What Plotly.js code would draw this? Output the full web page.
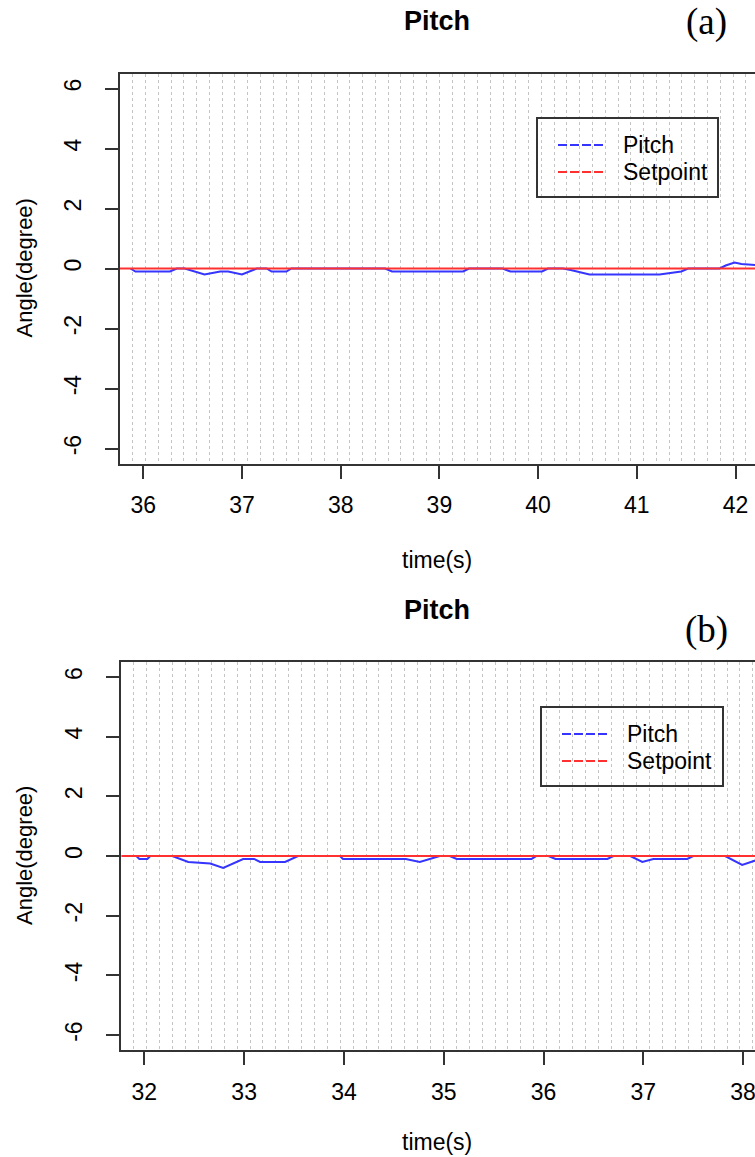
<!DOCTYPE html>
<html>
<head>
<meta charset="utf-8">
<script src="https://cdn.plot.ly/plotly-3.0.1.min.js"></script>
<style>
html,body{margin:0;padding:0;background:#fff;overflow:hidden;}
#chart{width:760px;height:1157px;}
</style>
</head>
<body>
<div id="chart"></div>
<script>
// ---------- data ----------
const chartTitle = "Pitch";
const panelLabels = ["(a)", "(b)"];
const seriesNames = ["Pitch", "Setpoint"];
const xTitle = "time(s)";
const yTitle = "Angle(degree)";

// panel (a)
const time_a = [35.87, 35.92, 36.27, 36.34, 36.42, 36.47, 36.62, 36.78, 36.86, 37.0, 37.15, 37.25, 37.3, 37.45, 37.5,
                38.45, 38.52, 39.24, 39.3, 39.64, 39.72, 40.04, 40.1, 40.25, 40.33, 40.52, 41.23, 41.45, 41.52,
                41.84, 41.9, 41.99, 42.06, 42.25];
const pitch_a = [0, -0.1, -0.1, 0, 0, -0.05, -0.2, -0.1, -0.1, -0.2, 0, 0, -0.1, -0.1, 0,
                 0, -0.1, -0.1, 0, 0, -0.1, -0.1, 0, 0, -0.05, -0.2, -0.2, -0.1, 0,
                 0, 0.1, 0.2, 0.15, 0.1];
const setTime_a = [35.76, 42.25];
const setpoint_a = [0, 0];
const xticks_a = [36, 37, 38, 39, 40, 41, 42];

// panel (b)
const time_b = [31.86, 31.92, 31.95, 32.03, 32.06, 32.28, 32.44, 32.66, 32.79, 32.99, 33.1, 33.16, 33.41, 33.54,
                33.96, 33.99, 34.62, 34.76, 34.96, 35.06, 35.13, 35.88, 35.93, 36.05, 36.12, 36.64, 36.7,
                36.87, 36.99, 37.1, 37.44, 37.5, 37.82, 37.99, 38.17];
const pitch_b = [0, 0, -0.1, -0.1, 0, 0, -0.2, -0.25, -0.4, -0.1, -0.1, -0.2, -0.2, 0,
                 0, -0.1, -0.1, -0.2, 0, 0, -0.1, -0.1, 0, 0, -0.1, -0.1, 0,
                 0, -0.2, -0.1, -0.1, 0, 0, -0.3, -0.1];
const setTime_b = [31.77, 38.17];
const setpoint_b = [0, 0];
const xticks_b = [32, 33, 34, 35, 36, 37, 38];

const yticks = [-6, -4, -2, 0, 2, 4, 6];

// ---------- layout helpers ----------
const W = 760, H = 1157;
const PX = p => p / W;
const PY = p => 1 - p / H;
const FONT = "Liberation Sans, Arial, sans-serif";
const DARK = "#333333";
const BLUE = "#3535ff";
const RED = "#ff3030";

function xaxisDef(range, ticks, leftPx, anchor) {
  return {
    domain: [PX(leftPx), 1], range: range, anchor: anchor,
    tickmode: "array", tickvals: ticks, ticktext: ticks.map(String),
    ticks: "outside", ticklen: 13, tickwidth: 2, tickcolor: DARK,
    showline: true, linecolor: DARK, linewidth: 2, mirror: true,
    showgrid: false, zeroline: false,
    tickfont: {family: FONT, size: 23, color: "#000"},
    ticklabelstandoff: 7
  };
}
function gridAxisDef(range, leftPx, anchor, overlay, tick0g, dtickg) {
  return {
    domain: [PX(leftPx), 1], range: range, anchor: anchor, overlaying: overlay,
    tickmode: "linear", tick0: tick0g, dtick: dtickg,
    showticklabels: false, ticks: "", showline: false, zeroline: false,
    showgrid: true, gridcolor: "#c4c4c4", griddash: "dot", gridwidth: 1
  };
}
function yaxisDef(topPx, botPx, anchor) {
  return {
    domain: [PY(botPx), PY(topPx)], range: [-6.5, 6.5], anchor: anchor,
    tickmode: "array", tickvals: yticks, ticktext: yticks.map(String), tickangle: -90,
    ticks: "outside", ticklen: 13, tickwidth: 2, tickcolor: DARK,
    showline: true, linecolor: DARK, linewidth: 2, mirror: true,
    showgrid: false, zeroline: false,
    tickfont: {family: FONT, size: 23, color: "#000"},
    ticklabelstandoff: 15
  };
}

const traces = [
  {x: time_a, y: pitch_a, xaxis: "x", yaxis: "y", mode: "lines", name: seriesNames[0],
   line: {color: BLUE, width: 2}},
  {x: setTime_a, y: setpoint_a, xaxis: "x3", yaxis: "y", mode: "lines", name: seriesNames[1],
   line: {color: RED, width: 2}},
  {x: time_b, y: pitch_b, xaxis: "x2", yaxis: "y2", mode: "lines", name: seriesNames[0],
   line: {color: BLUE, width: 2}},
  {x: setTime_b, y: setpoint_b, xaxis: "x4", yaxis: "y2", mode: "lines", name: seriesNames[1],
   line: {color: RED, width: 2}}
];

const annotations = [];
const shapes = [];
function panelDecor(boxTop, boxBot, titleY, xTitleY, legend) {
  annotations.push({text: "<b>" + chartTitle + "</b>", x: PX(437), y: PY(titleY), xref: "paper", yref: "paper",
    showarrow: false, xanchor: "center", yanchor: "middle", font: {family: FONT, size: 27, color: "#000"}});
  annotations.push({text: yTitle, x: PX(24), y: PY((boxTop + boxBot) / 2), xref: "paper", yref: "paper",
    showarrow: false, textangle: -90, xanchor: "center", yanchor: "middle", font: {family: FONT, size: 22, color: "#000"}});
  annotations.push({text: xTitle, x: PX(437), y: PY(xTitleY), xref: "paper", yref: "paper",
    showarrow: false, xanchor: "center", yanchor: "middle", font: {family: FONT, size: 23, color: "#000"}});
  // legend box
  shapes.push({type: "rect", xref: "paper", yref: "paper", x0: PX(legend.l), x1: PX(legend.r),
    y0: PY(legend.t), y1: PY(legend.b), line: {color: DARK, width: 2}, fillcolor: "rgba(0,0,0,0)"});
  const colors = [BLUE, RED];
  seriesNames.forEach((nm, i) => {
    const yy = legend.t + 27 + i * 27;
    shapes.push({type: "line", xref: "paper", yref: "paper", x0: PX(legend.l + 21), x1: PX(legend.l + 66),
      y0: PY(yy), y1: PY(yy), line: {color: colors[i], width: 2, dash: "9px,3px"}});
    annotations.push({text: nm, x: PX(legend.l + 84), y: PY(yy), xref: "paper", yref: "paper",
      showarrow: false, xanchor: "left", yanchor: "middle", font: {family: FONT, size: 23, color: "#000"}});
  });
}
panelDecor(73.5, 463.5, 21, 560, {l: 537, r: 718, t: 118, b: 197});
panelDecor(662, 1050, 610, 1142, {l: 541, r: 723, t: 707, b: 786});
annotations.push({text: panelLabels[0], x: PX(706), y: PY(22), xref: "paper", yref: "paper", showarrow: false,
  xanchor: "center", yanchor: "middle", font: {family: "Liberation Serif, Times New Roman, serif", size: 37, color: "#000"}});
annotations.push({text: panelLabels[1], x: PX(706), y: PY(630), xref: "paper", yref: "paper", showarrow: false,
  xanchor: "center", yanchor: "middle", font: {family: "Liberation Serif, Times New Roman, serif", size: 37, color: "#000"}});

const rangeA = [35.764, 42.248];
const rangeB = [31.766, 38.169];
const layout = {
  width: W, height: H,
  margin: {l: 0, r: 0, t: 0, b: 0, pad: 0},
  paper_bgcolor: "#fff", plot_bgcolor: "#fff",
  showlegend: false,
  xaxis: xaxisDef(rangeA, xticks_a, 120, "y"),
  yaxis: yaxisDef(73.5, 463.5, "x"),
  xaxis2: xaxisDef(rangeB, xticks_b, 121, "y2"),
  yaxis2: yaxisDef(662, 1050, "x2"),
  xaxis3: gridAxisDef(rangeA, 120, "y", "x", 35.893, 0.1294),
  xaxis4: gridAxisDef(rangeB, 121, "y2", "x2", 31.896, 0.1292),
  annotations: annotations,
  shapes: shapes
};

Plotly.newPlot("chart", traces, layout, {staticPlot: true, displayModeBar: false});
</script>
</body>
</html>
